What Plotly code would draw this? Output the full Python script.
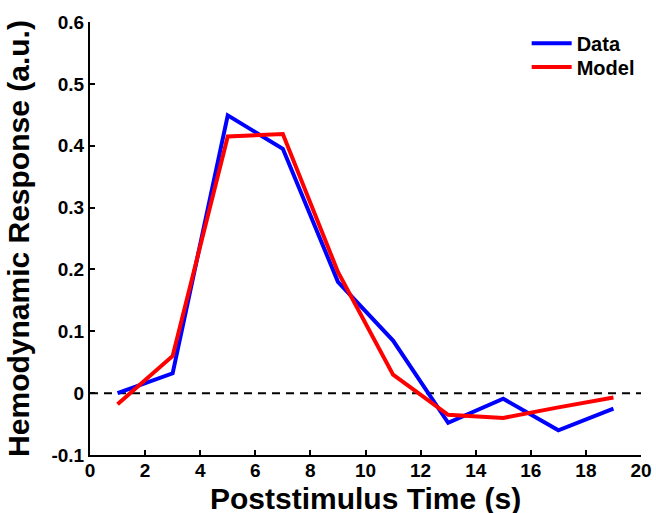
import plotly.graph_objects as go

# Poststimulus sample times (s)
time_s = [1, 3, 5, 7, 9, 11, 13, 15, 17, 19]
# Measured hemodynamic response
data_resp = [0.0, 0.032, 0.449, 0.395, 0.180, 0.085, -0.048, -0.009, -0.060, -0.025]
# Fitted model response
model_resp = [-0.018, 0.060, 0.415, 0.419, 0.196, 0.030, -0.035, -0.040, -0.023, -0.007]

x_ticks = list(range(0, 21, 2))
y_ticks = [-0.1, 0, 0.1, 0.2, 0.3, 0.4, 0.5, 0.6]
y_tick_text = ["-0.1", "0", "0.1", "0.2", "0.3", "0.4", "0.5", "0.6"]

FONT = "Liberation Sans, Arial, Helvetica, sans-serif"
LEGEND_FONT = dict(family=FONT, size=20, color="black", weight="bold")
TITLE_FONT = dict(family=FONT, size=30, color="black", weight="bold")

fig = go.Figure()
fig.add_trace(go.Scatter(x=time_s, y=data_resp, mode="lines", name="Data",
                         line=dict(color="#0000ff", width=4), legend="legend"))
fig.add_trace(go.Scatter(x=time_s, y=model_resp, mode="lines", name="Model",
                         line=dict(color="#ff0000", width=4), legend="legend2"))

# Dashed baseline at zero
fig.add_shape(type="line", xref="x", yref="y", x0=0, x1=20, y0=0, y1=0,
              line=dict(color="black", width=2, dash="8px,6px"), layer="below")

# x-axis title placed as an annotation below the tick labels
fig.add_annotation(text="Poststimulus Time (s)", xref="paper", yref="paper",
                   x=0.5, y=-0.057, xanchor="center", yanchor="top",
                   showarrow=False, font=TITLE_FONT)

axis_common = dict(
    showline=True, linecolor="black", linewidth=2,
    ticks="inside", ticklen=5, tickwidth=2, tickcolor="black",
    showgrid=False, zeroline=False, mirror=False, automargin=False,
    tickfont=dict(family=FONT, size=19, color="black", weight="bold"),
)

legend_common = dict(xanchor="left", yanchor="middle", bgcolor="rgba(0,0,0,0)",
                     borderwidth=0, font=LEGEND_FONT, itemwidth=40)

fig.update_layout(
    width=656, height=513,
    margin=dict(l=90, r=15, t=22, b=58),
    paper_bgcolor="white", plot_bgcolor="white",
    showlegend=True,
    legend=dict(x=0.7925, y=0.951, **legend_common),
    legend2=dict(x=0.7925, y=0.896, **legend_common),
    xaxis=dict(range=[0, 20], tickvals=x_ticks, ticklabelstandoff=-3,
               **axis_common),
    yaxis=dict(range=[-0.1, 0.6], tickvals=y_ticks, ticktext=y_tick_text,
               title=dict(text="Hemodynamic Response (a.u.)", standoff=13,
                          font=TITLE_FONT),
               **axis_common),
)

fig.write_html("out.html")
